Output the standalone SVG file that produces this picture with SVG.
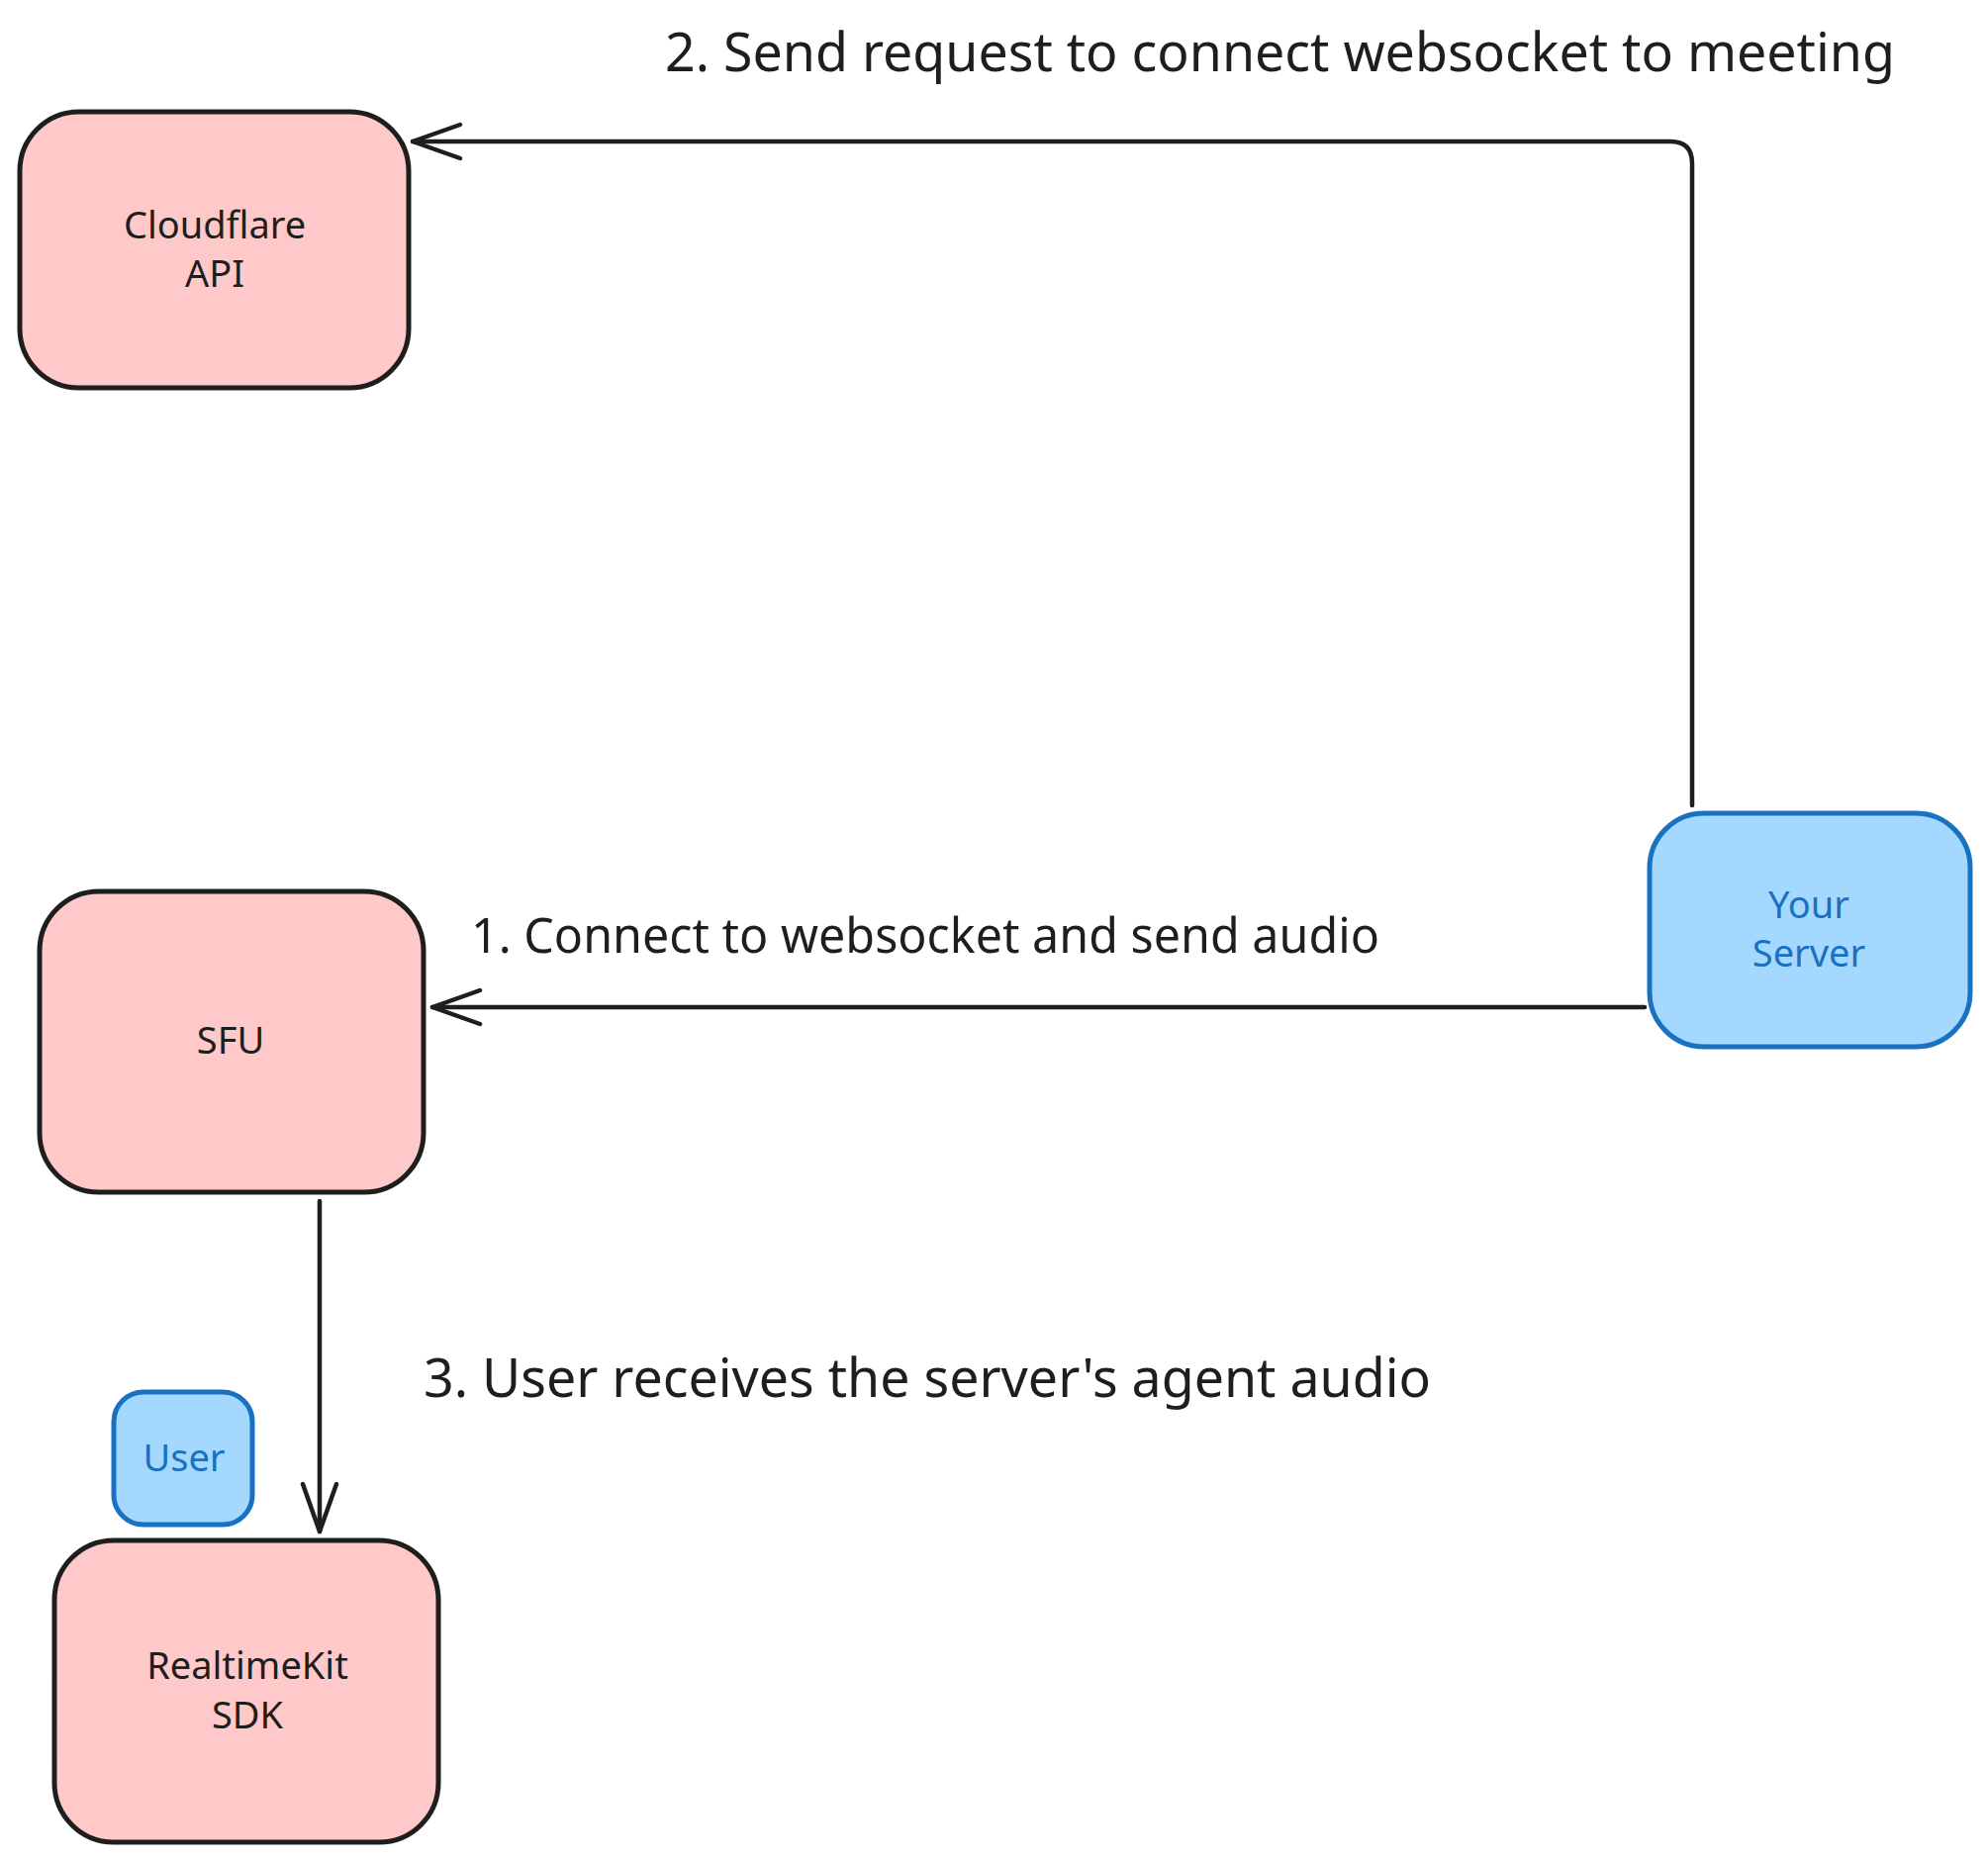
<svg xmlns="http://www.w3.org/2000/svg" width="2009" height="1880" viewBox="0 0 2009 1880">
<style>
.red rect{fill:#ffc9c9;stroke:#1e1e1e;stroke-width:5}
.blue rect{fill:#a5d8ff;stroke:#1971c2;stroke-width:5}
.red text{fill:#1e1e1e}
.blue text{fill:#1971c2}
text{font-family:"Noto Sans","Open Sans",sans-serif}
.node text{font-size:38px;text-anchor:middle}
.lbl{fill:#1e1e1e}
.conn path{fill:none;stroke:#1e1e1e;stroke-width:4.5;stroke-linecap:round;stroke-linejoin:round}
</style>
<defs>
<marker id="arr" markerUnits="userSpaceOnUse" viewBox="-54 -24 60 48" markerWidth="60" markerHeight="48" refX="0" refY="0" orient="auto">
<path d="M-48,-17 L0,0 L-48,17" fill="none" stroke="#1e1e1e" stroke-width="4.5" stroke-linecap="round" stroke-linejoin="round"/>
</marker>
</defs>
<rect width="2009" height="1880" fill="#ffffff"/>
<g id="connectors" class="conn">
<path id="c1" d="M1662,1018 L437,1018" marker-end="url(#arr)"/>
<path id="c2" d="M1710,814 L1710,165 Q1710,143 1688,143 L417,143" marker-end="url(#arr)"/>
<path id="c3" d="M323,1214 L323,1548" marker-end="url(#arr)"/>
</g>
<g id="cloudflare-api" class="node red">
<rect x="20" y="113" width="393" height="279" rx="60"/>
<text x="217" y="241">Cloudflare</text>
<text x="217" y="290">API</text>
</g>
<g id="sfu" class="node red">
<rect x="40" y="901" width="388" height="304" rx="60"/>
<text x="233" y="1065">SFU</text>
</g>
<g id="your-server" class="node blue">
<rect x="1667" y="822" width="324" height="236" rx="55"/>
<text x="1828" y="928">Your</text>
<text x="1828" y="977">Server</text>
</g>
<g id="user" class="node blue">
<rect x="115" y="1407" width="140" height="134" rx="30"/>
<text x="186" y="1487">User</text>
</g>
<g id="realtimekit-sdk" class="node red">
<rect x="55" y="1557" width="388" height="305" rx="60"/>
<text x="250" y="1697">RealtimeKit</text>
<text x="250" y="1747">SDK</text>
</g>
<g id="labels">
<text class="lbl" x="672" y="72" font-size="54" textLength="1243" lengthAdjust="spacingAndGlyphs">2. Send request to connect websocket to meeting</text>
<text class="lbl" x="476" y="963" font-size="48.5" textLength="918" lengthAdjust="spacingAndGlyphs">1. Connect to websocket and send audio</text>
<text class="lbl" x="428" y="1412" font-size="54" textLength="1018" lengthAdjust="spacingAndGlyphs">3. User receives the server's agent audio</text>
</g>
</svg>
